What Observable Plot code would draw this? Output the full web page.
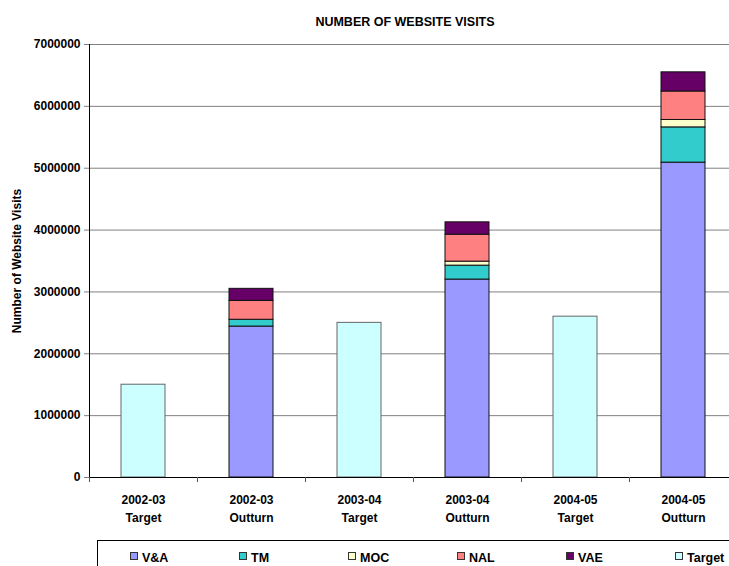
<!DOCTYPE html>
<html>
<head>
<meta charset="utf-8">
<script src="https://cdn.jsdelivr.net/npm/d3@7"></script>
<script src="https://cdn.jsdelivr.net/npm/@observablehq/plot@0.6"></script>
<style>
  html, body { margin: 0; padding: 0; background: #fff; overflow: hidden; }
  body { width: 729px; height: 566px; position: relative; font-family: "Liberation Sans", Arial, sans-serif; font-weight: bold; color: #000; }
  #title { position: absolute; top: 15px; left: 0; width: 810px; text-align: center; font-size: 12.5px; line-height: 15px; z-index: 2; }
  #chart { position: absolute; top: 0; left: 0; }
  #chart svg { max-width: none !important; width: 740px !important; height: 535px !important; }
  #legend { position: absolute; left: 97px; top: 540px; width: 720px; height: 40px; border: 1px solid #000; display: flex; padding-left: 32px; box-sizing: border-box; }
  #legend .item { width: 109px; display: flex; align-items: center; height: 30px; padding-top: 2px; font-size: 12.5px; }
  #legend .sw { width: 6px; height: 6px; border: 1px solid #333; margin-right: 4px; margin-top: -5px; }
</style>
</head>
<body>
<div id="title">NUMBER OF WEBSITE VISITS</div>
<div id="chart"></div>
<div id="legend"></div>
<script>
// Reporting periods and whether each column is a target or the actual outturn
const periods = ["2002-03", "2002-03", "2003-04", "2003-04", "2004-05", "2004-05"];
const kinds = ["Target", "Outturn", "Target", "Outturn", "Target", "Outturn"];

// Target visits for each year
const targetYears = ["2002-03", "2003-04", "2004-05"];
const targetVisits = [1500000, 2500000, 2600000];

// Outturn visits by website, per year
const outturnYears = ["2002-03", "2003-04", "2004-05"];
const vaVisits = [2440000, 3200000, 5090000];
const tmVisits = [110000, 225000, 570000];
const mocVisits = [0, 65000, 120000];
const nalVisits = [305000, 435000, 460000];
const vaeVisits = [195000, 200000, 310000];

const seriesNames = ["V&A", "TM", "MOC", "NAL", "VAE", "Target"];
const seriesColors = ["#9999FF", "#33CCCC", "#FFFFCC", "#FF8080", "#660066", "#CCFFFF"];

const yTicks = [0, 1000000, 2000000, 3000000, 4000000, 5000000, 6000000, 7000000];
const yLabel = "Number of Website Visits";

const categories = periods.map((p, i) => `${p} ${kinds[i]}`);

const outturnSeries = [vaVisits, tmVisits, mocVisits, nalVisits, vaeVisits];
const outturnRows = [];
outturnYears.forEach((yr, i) => {
  outturnSeries.forEach((vals, s) => {
    outturnRows.push({cat: `${yr} Outturn`, series: seriesNames[s], value: vals[i]});
  });
});
const targetRows = targetYears.map((yr, i) => ({cat: `${yr} Target`, series: "Target", value: targetVisits[i]}));

const font = `"Liberation Sans", Arial, sans-serif`;
const step = 108;

const chart = Plot.plot({
  width: 740,
  height: 535,
  marginTop: 44,
  marginLeft: 89,
  marginRight: 3,
  marginBottom: 58,
  style: {fontFamily: font, fontWeight: "bold", fontSize: "12px", color: "#000", background: "transparent", overflow: "visible"},
  x: {domain: categories, paddingInner: 0, paddingOuter: 0, axis: null, label: null},
  y: {domain: [0, 7000000], axis: null, label: null},
  color: {domain: seriesNames, range: seriesColors},
  marks: [
    Plot.gridY(yTicks, {stroke: "#808080", strokeOpacity: 1}),
    Plot.barY(targetRows, {x: "cat", y: "value", fill: "series", stroke: "#666", strokeWidth: 1, insetLeft: 32, insetRight: 32}),
    Plot.barY(outturnRows, Plot.stackY({x: "cat", y: "value", fill: "series", order: seriesNames, stroke: "#111", strokeWidth: 1, insetLeft: 32, insetRight: 32})),
    // y axis: grey tick marks and black labels
    Plot.axisY(yTicks, {tickSize: 5, tickPadding: 4, stroke: "#808080", fill: "#000", tickFormat: d3.format("d"), fontSize: 12, label: null}),
    // axis lines
    Plot.ruleY([0], {stroke: "#000"}),
    Plot.ruleX([categories[0]], {x: d => d, dx: -step / 2, stroke: "#000"}),
    // x axis: short ticks between the columns
    Plot.ruleX(categories, {x: d => d, y1: 0, y2: 0, dx: -step / 2, insetBottom: -5, stroke: "#555"}),
    // two-line column labels
    Plot.axisX(categories, {tickSize: 0, tickPadding: 17.5, tickFormat: (d) => periods[categories.indexOf(d)], fontSize: 12, label: null}),
    Plot.axisX(categories, {tickSize: 0, tickPadding: 35.5, tickFormat: (d) => kinds[categories.indexOf(d)], fontSize: 12, label: null}),
    Plot.text([yLabel], {frameAnchor: "left", textAnchor: "middle", rotate: -90, dx: -72, text: d => d, fontSize: 12, fontWeight: "bold"})
  ]
});
document.getElementById("chart").appendChild(chart);

// Legend built from the chart's colour scale
const colorScale = chart.scale("color");
const legend = document.getElementById("legend");
colorScale.domain.forEach((name, i) => {
  const item = document.createElement("div");
  item.className = "item";
  const sw = document.createElement("span");
  sw.className = "sw";
  sw.style.background = colorScale.range[i];
  item.appendChild(sw);
  item.appendChild(document.createTextNode(name));
  legend.appendChild(item);
});
</script>
</body>
</html>
